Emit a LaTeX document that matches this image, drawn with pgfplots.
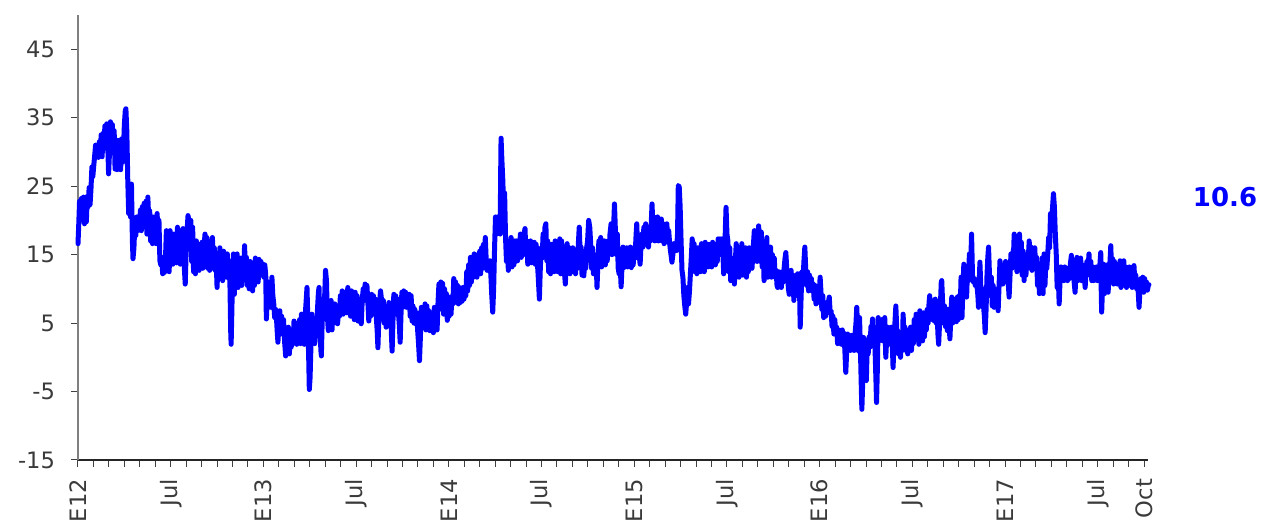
\documentclass[border=0pt]{standalone}
\usepackage{fontspec}
\setmainfont{DejaVu Sans}
\usepackage{pgfplots}
\pgfplotsset{compat=1.18}
\definecolor{tickgray}{HTML}{3A3A3A}
\definecolor{axgray}{HTML}{808080}
\definecolor{serblue}{RGB}{0,0,255}
\begin{document}
\begin{tikzpicture}
\useasboundingbox (-39pt,-31.5pt) rectangle (600.5pt,230pt);
\begin{axis}[
 at={(0,0)}, anchor=south west,
 scale only axis, width=535pt, height=222.5pt,
 xmin=0, xmax=69.25, ymin=-15, ymax=50,
 axis x line=bottom, axis y line=left,
 x axis line style={-, draw=black!85, line width=0.6pt},
 y axis line style={-, draw=axgray, line width=0.9pt},
 ytick={-15,-5,...,45},
 xtick={0,6,...,66,69},
 xticklabels={E12,Jul,E13,Jul,E14,Jul,E15,Jul,E16,Jul,E17,Jul,Oct},
 minor xtick={0,1,...,69},
 tick align=outside,
 major tick length=3.5pt, minor tick length=3.5pt,
 tick style={draw=black!75, line width=0.5pt},
 tick label style={font=\fontsize{11.3}{13}\selectfont, text=tickgray},
 /pgf/number format/assume math mode=true,
 x tick label style={rotate=90, anchor=east},
 xticklabel shift=2.5pt,
 yticklabel shift=4.5pt,
 clip=false,
]
\addplot[serblue, line width=2.5pt, line join=round, line cap=round] table[x=x,y=y] {
x y
0.00 16.6
0.05 19.5
0.10 22.8
0.15 20.0
0.22 23.2
0.30 21.0
0.36 23.4
0.42 19.5
0.48 22.5
0.54 19.8
0.60 23.5
0.66 22.0
0.72 24.8
0.78 22.3
0.84 24.6
0.90 27.8
0.96 26.4
1.02 28.0
1.08 29.5
1.14 31.0
1.20 29.4
1.26 30.8
1.32 29.2
1.38 31.5
1.44 30.0
1.50 32.5
1.56 29.3
1.62 32.7
1.68 30.5
1.74 33.8
1.80 32.0
1.86 34.1
1.92 31.5
1.98 26.8
2.04 30.0
2.10 34.4
2.16 33.0
2.22 34.0
2.28 31.0
2.34 33.1
2.40 27.5
2.46 30.0
2.52 27.4
2.58 31.7
2.64 28.0
2.70 31.0
2.76 27.4
2.82 31.9
2.88 28.5
2.94 30.0
3.00 34.0
3.06 36.0
3.10 36.3
3.16 33.0
3.22 26.0
3.28 21.0
3.34 23.0
3.40 20.5
3.46 25.3
3.52 17.0
3.56 14.4
3.62 16.0
3.68 19.5
3.74 17.8
3.80 20.5
3.86 18.5
3.92 20.3
3.98 19.0
4.04 21.5
4.10 18.5
4.16 22.0
4.22 20.0
4.28 22.5
4.34 19.0
4.40 22.8
4.46 18.0
4.52 23.4
4.58 20.0
4.64 21.4
4.70 17.0
4.76 19.5
4.82 16.6
4.88 20.5
4.94 17.5
5.00 19.0
5.06 16.6
5.12 21.0
5.18 18.0
5.24 20.0
5.30 14.1
5.36 13.5
5.42 14.6
5.48 12.2
5.54 14.0
5.60 12.4
5.66 14.3
5.72 18.5
5.78 13.0
5.84 17.0
5.90 12.5
5.96 18.5
6.02 14.0
6.08 17.5
6.14 13.6
6.20 18.0
6.26 14.5
6.32 16.5
6.38 13.8
6.44 19.0
6.50 15.0
6.56 17.5
6.62 13.6
6.68 18.5
6.74 14.5
6.80 18.8
6.86 14.0
6.94 10.7
7.00 15.5
7.06 18.5
7.12 20.7
7.18 20.0
7.24 17.0
7.30 20.0
7.36 14.0
7.42 19.0
7.48 12.5
7.54 16.0
7.60 12.2
7.66 17.0
7.72 13.0
7.78 16.5
7.84 12.7
7.90 15.5
7.96 13.5
8.02 16.8
8.08 13.0
8.14 15.5
8.22 18.0
8.28 14.5
8.34 17.5
8.40 13.0
8.46 16.5
8.52 12.7
8.58 17.0
8.64 13.5
8.70 17.5
8.76 13.0
8.82 16.0
8.88 12.7
8.94 14.5
9.00 10.2
9.06 14.0
9.12 11.5
9.18 16.0
9.24 12.0
9.30 15.0
9.36 11.2
9.42 15.5
9.48 12.0
9.54 14.5
9.60 11.7
9.66 15.1
9.72 12.5
9.78 14.0
9.84 10.0
9.88 4.0
9.91 1.9
9.96 7.0
10.00 12.0
10.06 15.1
10.12 9.2
10.18 13.5
10.24 11.0
10.30 15.1
10.36 10.2
10.42 14.0
10.48 11.5
10.54 14.5
10.60 10.5
10.66 13.5
10.72 12.0
10.78 16.3
10.84 12.5
10.90 14.6
10.96 10.5
11.02 13.5
11.08 10.0
11.14 14.0
11.20 11.0
11.26 13.8
11.30 9.7
11.36 13.0
11.42 10.5
11.48 14.5
11.54 11.5
11.60 14.0
11.66 11.0
11.72 14.3
11.78 12.0
11.84 14.0
11.90 12.5
11.97 13.6
12.03 11.7
12.09 13.5
12.15 12.0
12.19 5.6
12.25 8.5
12.31 11.0
12.37 8.0
12.43 10.5
12.49 7.3
12.55 11.7
12.61 9.0
12.67 7.8
12.73 5.8
12.79 7.0
12.85 5.5
12.90 3.5
12.94 2.2
13.00 5.5
13.06 6.8
13.12 3.4
13.18 6.0
13.24 4.0
13.30 5.5
13.38 2.0
13.44 0.2
13.50 4.0
13.56 1.0
13.62 4.4
13.68 0.5
13.74 3.5
13.80 1.5
13.86 4.0
13.92 2.0
13.98 5.3
14.04 2.5
14.10 5.0
14.16 1.9
14.22 4.5
14.28 2.5
14.34 5.5
14.40 2.0
14.46 6.3
14.52 3.0
14.58 5.5
14.64 1.9
14.70 6.0
14.76 8.0
14.82 10.2
14.88 5.0
14.93 0.0
14.97 -4.7
15.02 -3.0
15.08 2.0
15.14 6.3
15.20 2.5
15.26 5.5
15.32 2.0
15.38 4.5
15.44 3.5
15.50 7.0
15.56 9.5
15.60 10.2
15.66 4.0
15.72 1.0
15.75 0.2
15.80 5.0
15.86 7.5
15.92 6.0
15.98 10.0
16.02 12.7
16.08 11.2
16.14 6.0
16.20 3.9
16.26 7.5
16.32 4.5
16.38 8.3
16.44 4.0
16.50 7.0
16.56 5.0
16.62 7.8
16.68 5.2
16.74 7.5
16.80 4.9
16.86 7.0
16.92 6.0
16.98 9.0
17.04 6.5
17.10 9.7
17.16 6.3
17.22 9.0
17.28 7.0
17.34 9.5
17.40 6.5
17.46 10.2
17.52 7.0
17.58 9.5
17.64 6.0
17.70 9.7
17.76 6.5
17.82 9.0
17.88 5.5
17.94 9.5
18.00 6.5
18.06 9.0
18.12 5.3
18.18 8.5
18.24 6.0
18.30 7.0
18.33 4.9
18.40 8.5
18.46 10.0
18.52 8.3
18.58 10.7
18.64 9.0
18.70 10.5
18.76 8.0
18.82 5.3
18.88 8.5
18.94 6.0
19.00 9.2
19.06 6.3
19.12 9.0
19.18 7.0
19.24 8.5
19.30 6.0
19.36 4.0
19.41 1.4
19.46 5.0
19.52 8.0
19.58 9.7
19.64 8.5
19.70 6.0
19.76 8.3
19.82 5.0
19.88 7.5
19.94 4.4
20.00 7.5
20.06 5.5
20.12 8.0
20.18 5.0
20.24 6.5
20.29 3.0
20.33 0.9
20.38 5.0
20.44 9.2
20.50 6.3
20.56 9.0
20.62 7.0
20.68 8.5
20.74 6.5
20.80 4.5
20.85 2.2
20.90 6.0
20.96 9.5
21.02 7.3
21.08 9.7
21.14 7.5
21.20 9.5
21.26 7.3
21.32 9.0
21.38 7.5
21.44 9.2
21.50 6.0
21.56 9.0
21.62 5.3
21.68 7.5
21.74 5.0
21.80 7.0
21.86 4.9
21.92 6.5
21.98 4.0
22.04 2.0
22.10 -0.5
22.16 3.0
22.22 7.3
22.28 4.4
22.34 7.0
22.40 4.5
22.46 7.8
22.52 4.0
22.58 7.5
22.64 4.5
22.70 6.8
22.76 3.9
22.82 6.3
22.88 4.0
22.94 6.0
23.00 3.6
23.06 7.3
23.12 4.5
23.18 7.0
23.24 4.0
23.30 8.0
23.36 10.7
23.42 8.0
23.48 11.0
23.54 7.0
23.60 10.8
23.66 6.3
23.72 10.0
23.78 6.5
23.84 9.3
23.90 5.4
23.96 8.5
24.02 6.0
24.08 8.8
24.14 6.3
24.20 8.5
24.26 7.8
24.32 11.5
24.38 8.0
24.44 11.0
24.50 8.5
24.56 10.5
24.62 7.8
24.68 10.2
24.74 8.0
24.80 10.0
24.86 8.2
24.92 10.2
24.98 8.5
25.04 10.0
25.10 9.0
25.16 12.5
25.22 9.7
25.28 13.5
25.34 10.5
25.40 14.6
25.46 11.0
25.52 14.0
25.58 11.7
25.64 15.1
25.70 12.0
25.76 14.5
25.82 11.7
25.88 15.0
25.94 12.5
26.00 15.5
26.06 12.2
26.12 16.0
26.18 13.0
26.24 16.5
26.30 14.0
26.36 17.5
26.42 14.1
26.48 12.7
26.54 14.0
26.60 13.0
26.66 14.1
26.72 12.0
26.78 9.0
26.84 6.6
26.90 10.0
26.96 16.0
27.02 20.5
27.08 18.0
27.14 20.5
27.20 18.5
27.26 20.0
27.32 18.0
27.36 28.0
27.38 32.0
27.43 29.0
27.49 26.0
27.55 22.0
27.61 24.0
27.67 17.5
27.73 14.0
27.79 17.0
27.85 12.7
27.91 16.5
27.97 13.5
28.03 17.5
28.09 13.2
28.15 16.8
28.21 13.5
28.27 17.0
28.33 14.0
28.39 17.0
28.45 14.1
28.51 16.5
28.57 15.0
28.63 18.0
28.69 14.6
28.75 17.5
28.81 15.0
28.87 18.0
28.93 18.8
28.99 15.0
29.05 17.0
29.11 13.6
29.17 16.5
29.23 14.0
29.29 17.0
29.35 13.8
29.41 16.0
29.47 14.0
29.53 16.8
29.59 13.6
29.65 16.5
29.71 14.5
29.78 12.0
29.86 8.5
29.92 13.0
29.98 16.0
30.04 14.5
30.10 18.0
30.16 16.0
30.22 19.0
30.28 19.5
30.34 14.1
30.40 17.0
30.46 12.5
30.52 16.0
30.58 12.2
30.64 16.5
30.70 13.0
30.76 15.5
30.82 12.5
30.88 17.0
30.94 13.0
31.00 15.5
31.06 12.5
31.12 15.0
31.18 17.3
31.24 12.2
31.30 17.0
31.36 13.0
31.42 15.0
31.48 12.5
31.54 10.7
31.60 14.0
31.66 16.6
31.72 12.5
31.78 16.0
31.84 12.2
31.90 15.5
31.96 12.5
32.02 16.0
32.08 13.0
32.14 15.5
32.20 12.2
32.26 15.0
32.32 13.0
32.38 16.5
32.44 19.0
32.50 15.0
32.56 16.1
32.62 12.0
32.68 15.5
32.74 11.9
32.80 15.0
32.86 13.0
32.92 16.0
32.98 17.0
33.05 20.0
33.12 19.0
33.18 16.6
33.24 13.0
33.30 16.0
33.36 12.2
33.42 15.0
33.48 12.5
33.54 13.5
33.59 10.2
33.65 14.0
33.71 17.0
33.77 14.5
33.83 17.5
33.89 13.2
33.95 16.5
34.01 14.0
34.07 17.0
34.13 13.5
34.19 16.5
34.25 14.1
34.31 17.0
34.37 15.0
34.43 18.0
34.50 19.5
34.56 15.0
34.62 18.0
34.68 20.0
34.72 22.4
34.78 18.5
34.84 15.0
34.90 18.0
34.96 13.0
35.02 12.2
35.08 14.0
35.15 10.3
35.21 13.5
35.27 16.1
35.33 13.1
35.39 15.5
35.45 13.5
35.51 16.0
35.57 13.2
35.63 15.8
35.69 13.5
35.75 16.1
35.81 13.1
35.87 15.5
35.93 13.5
35.99 16.0
36.05 14.5
36.11 17.5
36.16 19.5
36.22 16.0
36.28 15.0
36.34 14.5
36.38 13.6
36.44 16.5
36.50 18.0
36.56 16.1
36.62 19.0
36.68 16.5
36.74 19.5
36.80 17.0
36.86 19.0
36.92 16.1
36.98 18.5
37.04 17.0
37.10 19.5
37.15 22.4
37.21 19.0
37.27 20.5
37.33 17.0
37.39 19.5
37.45 17.5
37.51 20.5
37.57 17.0
37.63 20.0
37.69 18.0
37.75 20.2
37.81 17.0
37.87 19.5
37.93 16.6
37.99 19.0
38.05 17.0
38.11 19.5
38.17 16.8
38.23 18.5
38.29 16.6
38.35 15.5
38.44 13.9
38.50 15.0
38.56 16.6
38.62 15.6
38.68 16.5
38.74 15.6
38.80 18.0
38.85 25.1
38.91 24.9
38.97 22.0
39.03 17.0
39.09 12.7
39.15 11.7
39.21 9.0
39.27 7.5
39.33 6.3
39.39 8.0
39.45 10.2
39.51 7.8
39.57 9.5
39.63 12.0
39.69 14.5
39.75 17.3
39.81 15.0
39.87 16.6
39.93 12.5
39.99 15.5
40.05 12.2
40.11 16.0
40.17 13.0
40.23 15.5
40.29 12.5
40.35 16.6
40.41 13.5
40.47 15.5
40.53 12.5
40.59 16.8
40.65 13.5
40.71 16.0
40.77 13.2
40.83 16.5
40.89 13.5
40.95 16.0
41.01 13.2
41.07 16.8
41.13 14.0
41.19 16.0
41.25 13.5
41.31 16.5
41.37 14.0
41.43 17.3
41.49 15.5
41.55 17.3
41.61 15.0
41.67 17.3
41.73 15.5
41.79 12.2
41.86 16.0
41.94 21.9
42.00 18.0
42.06 17.0
42.12 12.5
42.18 16.0
42.24 11.2
42.30 14.5
42.36 12.0
42.42 13.5
42.48 10.7
42.54 14.0
42.60 16.6
42.66 12.5
42.72 16.0
42.78 11.7
42.84 15.5
42.90 12.5
42.96 16.6
43.02 12.0
43.08 15.5
43.14 12.5
43.20 16.0
43.26 11.7
43.32 15.0
43.38 12.5
43.44 16.0
43.50 13.0
43.56 15.5
43.62 13.0
43.70 16.0
43.77 18.5
43.83 15.0
43.89 17.0
43.95 14.0
44.01 17.5
44.05 19.2
44.10 17.0
44.16 14.0
44.22 18.3
44.28 13.2
44.34 17.0
44.40 11.2
44.46 16.5
44.52 12.0
44.58 17.5
44.64 11.7
44.70 16.0
44.76 12.5
44.82 16.1
44.88 11.7
44.94 15.0
45.00 12.0
45.06 14.5
45.12 11.7
45.18 12.7
45.24 10.5
45.28 10.2
45.34 12.5
45.40 10.5
45.46 12.0
45.52 10.2
45.58 12.5
45.64 11.0
45.70 13.0
45.76 14.5
45.81 15.3
45.87 13.0
45.93 11.5
45.98 10.0
46.03 9.2
46.09 11.5
46.15 12.7
46.21 9.5
46.27 12.0
46.33 8.3
46.39 11.5
46.45 9.0
46.51 11.5
46.57 12.2
46.63 11.0
46.68 12.2
46.74 4.4
46.80 9.0
46.86 12.5
46.92 11.0
46.98 14.0
47.04 16.1
47.10 12.7
47.16 10.5
47.22 12.5
47.28 9.7
47.34 12.0
47.40 10.0
47.46 11.5
47.52 9.7
47.58 10.7
47.64 8.5
47.70 10.5
47.76 7.8
47.82 10.0
47.88 8.0
47.94 9.5
48.00 10.5
48.03 11.7
48.08 9.7
48.14 7.0
48.20 9.0
48.26 5.8
48.32 8.0
48.38 6.0
48.44 7.5
48.50 6.5
48.56 8.0
48.62 8.8
48.68 6.5
48.74 6.8
48.80 4.5
48.86 6.0
48.92 3.4
48.98 5.5
49.04 3.5
49.10 4.4
49.16 2.0
49.22 4.0
49.28 2.2
49.34 3.8
49.40 1.9
49.46 4.0
49.52 2.5
49.58 3.5
49.64 0.5
49.69 -2.2
49.75 1.0
49.81 3.4
49.87 1.5
49.93 3.0
49.99 1.0
50.05 3.2
50.11 1.2
50.17 3.0
50.23 1.0
50.29 3.4
50.35 5.0
50.40 7.3
50.46 4.0
50.52 0.9
50.58 5.8
50.64 1.0
50.68 -3.0
50.73 -7.6
50.78 -4.0
50.84 2.9
50.90 -1.0
50.96 2.5
51.02 -3.4
51.08 2.0
51.14 0.5
51.20 3.0
51.26 1.5
51.32 4.5
51.38 2.0
51.42 5.6
51.48 2.0
51.54 4.0
51.60 0.0
51.65 -4.0
51.68 -6.6
51.73 -2.0
51.79 5.8
51.85 2.4
51.91 5.0
51.97 3.0
52.03 5.5
52.09 2.4
52.15 5.0
52.21 5.8
52.28 0.0
52.34 3.0
52.40 4.4
52.46 1.9
52.52 4.0
52.58 2.0
52.64 4.4
52.70 1.9
52.75 -1.5
52.81 2.0
52.87 5.0
52.93 7.5
52.99 4.0
53.05 3.9
53.11 0.5
53.17 3.5
53.23 0.0
53.29 3.0
53.35 1.0
53.40 6.3
53.46 3.0
53.52 4.4
53.58 1.0
53.64 4.0
53.70 0.5
53.76 3.5
53.82 1.5
53.88 4.4
53.94 1.0
54.00 4.0
54.06 2.0
54.12 5.5
54.18 2.5
54.24 6.3
54.30 3.0
54.36 5.0
54.42 1.9
54.48 6.8
54.54 3.5
54.60 6.0
54.66 2.4
54.72 6.5
54.78 3.0
54.84 6.0
54.90 4.0
54.96 7.0
55.02 5.0
55.08 8.0
55.12 9.0
55.18 6.0
55.24 8.3
55.30 5.5
55.36 8.0
55.42 5.3
55.48 8.5
55.54 5.0
55.60 7.0
55.65 3.5
55.70 1.9
55.76 5.0
55.82 8.0
55.87 11.0
55.90 11.2
55.96 7.8
56.02 5.0
56.08 7.5
56.14 4.5
56.20 7.0
56.26 3.9
56.32 7.0
56.38 4.5
56.43 2.7
56.49 6.0
56.55 8.8
56.61 5.0
56.67 8.0
56.73 5.5
56.79 8.5
56.85 5.2
56.91 8.8
56.97 5.5
57.03 9.0
57.09 6.5
57.15 11.7
57.21 5.8
57.27 10.0
57.33 13.6
57.39 9.0
57.45 12.5
57.51 8.8
57.57 13.0
57.63 11.2
57.69 15.1
57.75 11.5
57.83 18.0
57.89 12.0
57.95 11.0
58.01 11.5
58.07 10.5
58.13 11.2
58.19 10.2
58.24 9.0
58.28 7.3
58.33 11.0
58.37 13.9
58.43 10.2
58.49 8.0
58.55 10.0
58.61 7.3
58.66 6.0
58.71 3.6
58.77 7.0
58.83 12.0
58.88 14.5
58.93 16.1
58.99 12.0
59.05 9.0
59.11 11.7
59.17 7.5
59.23 10.5
59.29 7.3
59.35 10.0
59.41 8.0
59.47 9.5
59.55 6.8
59.61 10.5
59.67 14.1
59.73 11.0
59.79 13.5
59.85 10.7
59.91 13.0
59.97 11.0
60.03 14.0
60.09 11.5
60.15 13.5
60.21 10.7
60.26 8.8
60.32 12.0
60.38 15.1
60.44 13.0
60.50 15.1
60.56 16.0
60.59 18.0
60.65 14.0
60.71 16.0
60.77 12.5
60.83 15.5
60.89 17.0
60.93 18.0
60.99 14.0
61.05 16.8
61.11 12.0
61.17 15.5
61.23 11.2
61.29 14.5
61.35 12.0
61.41 15.0
61.47 13.0
61.56 17.0
61.62 14.0
61.68 16.1
61.74 12.7
61.80 15.5
61.86 13.0
61.92 16.0
61.98 13.0
62.04 14.6
62.10 10.5
62.16 13.5
62.22 9.3
62.28 13.0
62.34 10.5
62.40 14.5
62.46 9.3
62.52 15.1
62.58 10.5
62.64 14.0
62.70 13.0
62.76 15.1
62.82 17.5
62.88 16.0
62.94 21.0
63.00 19.0
63.06 21.5
63.13 23.9
63.19 22.0
63.25 18.0
63.31 15.1
63.37 10.2
63.44 12.0
63.50 7.8
63.56 11.5
63.62 13.2
63.68 11.2
63.74 13.0
63.80 11.2
63.86 13.2
63.92 11.5
63.98 13.0
64.04 11.2
64.10 13.0
64.16 11.5
64.22 13.5
64.29 14.9
64.35 12.0
64.41 13.0
64.47 11.0
64.53 9.5
64.59 12.5
64.65 14.6
64.71 11.2
64.77 14.0
64.83 11.5
64.89 14.5
64.95 11.2
65.01 13.5
65.07 11.5
65.13 12.0
65.18 10.2
65.24 12.5
65.30 14.0
65.36 12.5
65.43 15.1
65.49 12.0
65.55 14.0
65.61 11.2
65.67 13.2
65.73 11.2
65.79 13.0
65.85 11.5
65.91 13.2
65.97 11.2
66.03 13.0
66.09 12.0
66.15 14.0
66.19 15.3
66.22 10.0
66.25 6.6
66.31 10.5
66.37 13.6
66.43 9.3
66.49 13.0
66.55 10.0
66.61 13.5
66.67 9.5
66.73 12.5
66.79 14.0
66.84 16.3
66.90 12.0
66.96 14.4
67.02 10.7
67.08 14.0
67.14 11.0
67.20 13.5
67.26 10.7
67.32 13.0
67.38 11.0
67.44 14.1
67.50 10.2
67.56 13.5
67.62 10.5
67.68 14.1
67.74 11.0
67.80 13.2
67.86 10.2
67.92 12.5
67.98 10.5
68.04 13.2
68.10 10.5
68.16 12.0
68.22 10.2
68.28 12.5
68.34 13.4
68.40 11.0
68.46 12.0
68.52 10.0
68.58 11.0
68.63 9.0
68.67 7.3
68.73 10.0
68.79 11.5
68.85 10.0
68.91 11.7
68.97 9.5
69.03 11.5
69.09 10.0
69.15 11.0
69.21 9.8
69.27 10.5
69.31 10.6
};
\node[text=serblue, font=\fontsize{13}{15}\selectfont\bfseries] at (axis description cs:1.072,0.591) {10.6};
\end{axis}
\end{tikzpicture}
\end{document}
